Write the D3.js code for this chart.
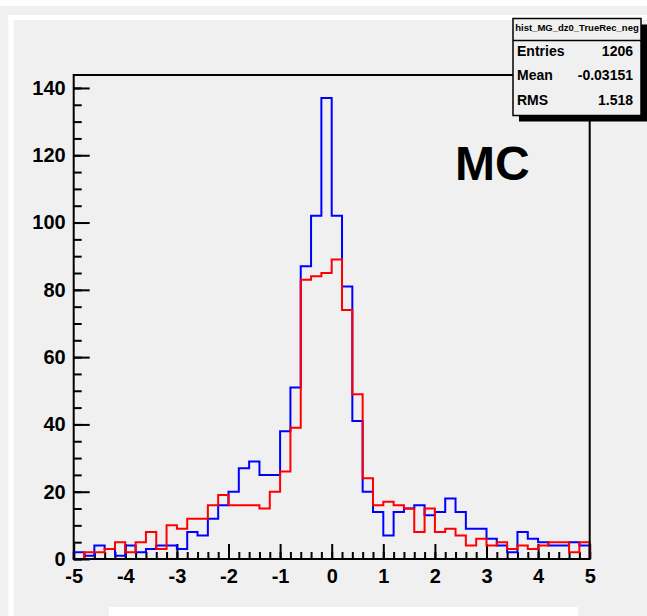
<!DOCTYPE html>
<html>
<head>
<meta charset="utf-8">
<script src="https://cdn.jsdelivr.net/npm/d3@7"></script>
<style>
  body { margin: 0; background: #fff; }
  svg { display: block; font-family: "Liberation Sans", Arial, sans-serif; }
  .axis text { font-weight: bold; font-size: 20px; fill: #000; }
  .axis line { stroke: #000; stroke-width: 2px; }
  .axis path { display: none; }
</style>
</head>
<body>
<div class="hist-container"></div>
<script>
// histogram bins (low edges), 0.2 wide from -5 to 5
const binLow = d3.range(50).map(i => -5 + i * 0.2);
const binWidth = 0.2;

// blue series
const blueCounts = [2, 1, 4, 3, 1, 4, 2, 3, 4, 4,
                    3, 8, 7, 12, 16, 20, 27, 29, 25, 25,
                    38, 51, 87, 102, 137, 102, 81, 41, 20, 14,
                    7, 14, 15, 16, 13, 14, 18, 14, 9, 9,
                    6, 4, 2, 8, 6, 5, 4, 4, 5, 4];
// red series
const redCounts = [0, 2, 2, 3, 5, 2, 5, 8, 3, 10,
                   9, 12, 12, 16, 19, 16, 16, 16, 15, 20,
                   26, 39, 83, 84, 85, 89, 74, 49, 24, 16,
                   17, 16, 15, 8, 15, 8, 9, 7, 4, 6,
                   4, 5, 3, 4, 3, 4, 5, 5, 2, 5];

const xTicks = [-5, -4, -3, -2, -1, 0, 1, 2, 3, 4, 5];
const yTicks = [0, 20, 40, 60, 80, 100, 120, 140];
const statsTitle = "hist_MG_dz0_TrueRec_neg";
const statsRows = [["Entries", "1206"], ["Mean", "-0.03151"], ["RMS", "1.518"]];

// canvas
const svg_width = 647;
const svg_height = 616;
const frame = { left: 73.7, right: 589.7, top: 75, bottom: 559 };

const svg = d3.select(".hist-container").append("svg")
    .attr("width", svg_width)
    .attr("height", svg_height);

// background pieces (ROOT style pad)
svg.append("rect").attr("width", svg_width).attr("height", svg_height).attr("fill", "#f0f0f0");
svg.append("rect").attr("x", 0).attr("y", 0).attr("width", svg_width).attr("height", 6).attr("fill", "#fff");
svg.append("rect").attr("x", 8.5).attr("y", 15).attr("width", svg_width - 8.5).attr("height", 5).attr("fill", "#fff");
svg.append("rect").attr("x", 8.5).attr("y", 15).attr("width", 5).attr("height", svg_height - 15).attr("fill", "#fff");
svg.append("rect").attr("x", 109).attr("y", 607).attr("width", 469).attr("height", 9).attr("fill", "#fff");

// scales
const yMax = d3.max(blueCounts) * 1.05;
const xScale = d3.scaleLinear([-5, 5], [frame.left, frame.right]);
const yScale = d3.scaleLinear([0, yMax], [frame.bottom, frame.top]);

// axes: minor ticks first, then major with labels
const xMinor = d3.range(51).map(i => -5 + i * 0.2);
const yMinor = d3.range(0, 141, 5);
const plainNum = d => String(d);

svg.append("g").attr("class", "x axis")
    .attr("transform", `translate(0,${frame.bottom})`)
    .call(d3.axisBottom(xScale).tickValues(xMinor).tickFormat("").tickSizeInner(-7).tickSizeOuter(0));
svg.append("g").attr("class", "x axis")
    .attr("transform", `translate(0,${frame.bottom})`)
    .call(d3.axisBottom(xScale).tickValues(xTicks).tickFormat(plainNum)
        .tickSizeInner(-15).tickSizeOuter(0).tickPadding(10));

svg.append("g").attr("class", "y axis")
    .attr("transform", `translate(${frame.left},0)`)
    .call(d3.axisLeft(yScale).tickValues(yMinor).tickFormat("").tickSizeInner(-8).tickSizeOuter(0));
svg.append("g").attr("class", "y axis")
    .attr("transform", `translate(${frame.left},0)`)
    .call(d3.axisLeft(yScale).tickValues(yTicks).tickFormat(plainNum)
        .tickSizeInner(-16).tickSizeOuter(0).tickPadding(8));

// histogram outlines
function stepPoints(counts) {
    const pts = [[-5, 0]];
    counts.forEach((c, i) => pts.push([binLow[i], c]));
    pts.push([binLow[binLow.length - 1] + binWidth, counts[counts.length - 1]]);
    pts.push([binLow[binLow.length - 1] + binWidth, 0]);
    return pts;
}
const stepLine = d3.line()
    .x(d => xScale(d[0]))
    .y(d => yScale(d[1]))
    .curve(d3.curveStepAfter);

svg.append("path").datum(stepPoints(blueCounts))
    .attr("d", stepLine).attr("fill", "none")
    .attr("stroke", "#0000ff").attr("stroke-width", 2);
svg.append("path").datum(stepPoints(redCounts))
    .attr("d", stepLine).attr("fill", "none")
    .attr("stroke", "#ff0000").attr("stroke-width", 2);

// frame
svg.append("rect")
    .attr("x", frame.left).attr("y", frame.top)
    .attr("width", frame.right - frame.left).attr("height", frame.bottom - frame.top)
    .attr("fill", "none").attr("stroke", "#000").attr("stroke-width", 2);

// MC label
svg.append("text").attr("x", 455).attr("y", 180)
    .attr("font-size", 48).attr("font-weight", "bold").text("MC");

// stats box
const box = { x: 513, y: 18.5, w: 128, h: 97 };
svg.append("rect").attr("x", box.x + 6).attr("y", box.y + 6)
    .attr("width", box.w).attr("height", box.h).attr("fill", "#000");
svg.append("rect").attr("x", box.x).attr("y", box.y)
    .attr("width", box.w).attr("height", box.h)
    .attr("fill", "#f0f0f0").attr("stroke", "#000").attr("stroke-width", 1.5);
svg.append("line").attr("x1", box.x).attr("x2", box.x + box.w)
    .attr("y1", 40.5).attr("y2", 40.5).attr("stroke", "#000").attr("stroke-width", 1.5);
svg.append("text").attr("x", 577).attr("y", 31)
    .attr("text-anchor", "middle").attr("font-size", 9.5).attr("font-weight", "bold")
    .text(statsTitle);
statsRows.forEach((r, i) => {
    const y = 56 + i * 24.3;
    svg.append("text").attr("x", 517).attr("y", y)
        .attr("font-size", 14).attr("font-weight", "bold").text(r[0]);
    svg.append("text").attr("x", 633).attr("y", y).attr("text-anchor", "end")
        .attr("font-size", 14).attr("font-weight", "bold").text(r[1]);
});
</script>
</body>
</html>
